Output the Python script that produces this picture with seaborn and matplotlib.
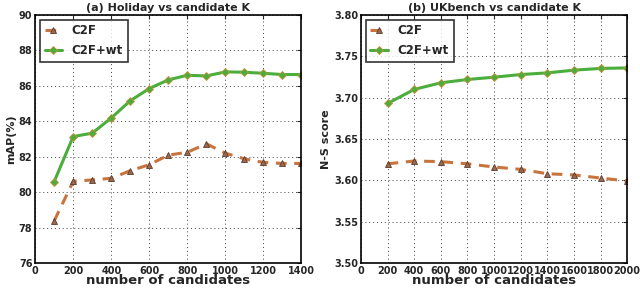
import numpy as np
import matplotlib
matplotlib.use('Agg')
import matplotlib.pyplot as plt
import seaborn as sns

# holiday (a)
k_holiday = [100, 200, 300, 400, 500, 600, 700, 800, 900, 1000, 1100, 1200, 1300, 1400]
c2f_holiday = [78.38, 80.61, 80.69, 80.78, 81.21, 81.55, 82.09, 82.25, 82.73, 82.2, 81.88, 81.68, 81.62, 81.62]
c2fwt_holiday = [80.6, 83.14, 83.33, 84.19, 85.16, 85.85, 86.34, 86.6, 86.56, 86.79, 86.77, 86.71, 86.64, 86.64]

# ukbench (b)
k_ukbench = [200, 400, 600, 800, 1000, 1200, 1400, 1600, 1800, 2000]
c2f_ukbench = [3.620, 3.6234, 3.6226, 3.620, 3.6161, 3.6133, 3.608, 3.6065, 3.6028, 3.5992]
c2fwt_ukbench = [3.693, 3.710, 3.718, 3.722, 3.7248, 3.728, 3.730, 3.7333, 3.7354, 3.736]

sns.set_style('white')
plt.rcParams['font.family'] = ['DejaVu Sans']
plt.rcParams['font.weight'] = 'bold'

orange = '#c8743e'
green = '#4aae3c'

fig = plt.figure(figsize=(6.4, 2.89), dpi=100)
ax1 = fig.add_axes([0.055, 0.09, 0.416, 0.858])
ax2 = fig.add_axes([0.564, 0.09, 0.416, 0.858])

def draw(ax, k, c2f, c2fwt):
    sns.lineplot(x=k, y=c2f, ax=ax, color=orange, linestyle=(0, (3.5, 2.5)), lw=2.2,
                 marker='^', ms=5, mfc='#9a6a50', mec='#5a3a2a', mew=0.6, label='C2F')
    sns.lineplot(x=k, y=c2fwt, ax=ax, color=green, lw=2.2,
                 marker='D', ms=4.5, mfc=green, mec='#c8903a', mew=0.6, label='C2F+wt')
    ax.grid(True, color='#444444', linestyle=(0, (1, 3)), lw=0.7)
    ax.tick_params(direction='in', length=3, labelsize=7, pad=2, top=True, right=True)
    for t in ax.get_xticklabels() + ax.get_yticklabels():
        t.set_fontweight('bold')
    for s in ax.spines.values():
        s.set_color('black')
        s.set_linewidth(1.2)
    ax.set_xlabel('number of candidates', fontsize=9.5, fontweight='bold', labelpad=-1)
    leg = ax.legend(loc='upper left', fontsize=8.5, frameon=True, fancybox=False,
                    handlelength=1.5, borderpad=0.4, labelspacing=0.55, handletextpad=0.8,
                    borderaxespad=0.4)
    leg.get_frame().set_edgecolor('black')
    leg.get_frame().set_linewidth(1.2)
    for t in leg.get_texts():
        t.set_fontweight('bold')

draw(ax1, k_holiday, c2f_holiday, c2fwt_holiday)
ax1.set_xlim(0, 1400)
ax1.set_ylim(76, 90)
ax1.set_xticks(range(0, 1401, 200))
ax1.set_yticks(range(76, 91, 2))
ax1.set_ylabel('mAP(%)', fontsize=8, fontweight='bold', labelpad=2)
ax1.set_title('(a) Holiday vs candidate K', fontsize=8, fontweight='bold', pad=3)

draw(ax2, k_ukbench, c2f_ukbench, c2fwt_ukbench)
ax2.set_xlim(0, 2000)
ax2.set_ylim(3.5, 3.8)
ax2.set_xticks(range(0, 2001, 200))
ax2.set_yticks(np.arange(3.5, 3.801, 0.05))
ax2.set_yticklabels(['%.2f' % v for v in np.arange(3.5, 3.801, 0.05)])
ax2.set_ylabel('N-S score', fontsize=8, fontweight='bold', labelpad=2)
ax2.set_title('(b) UKbench vs candidate K', fontsize=8, fontweight='bold', pad=3)
for t in ax2.get_xticklabels() + ax2.get_yticklabels():
    t.set_fontweight('bold')

fig.savefig('out.png', dpi=100)
